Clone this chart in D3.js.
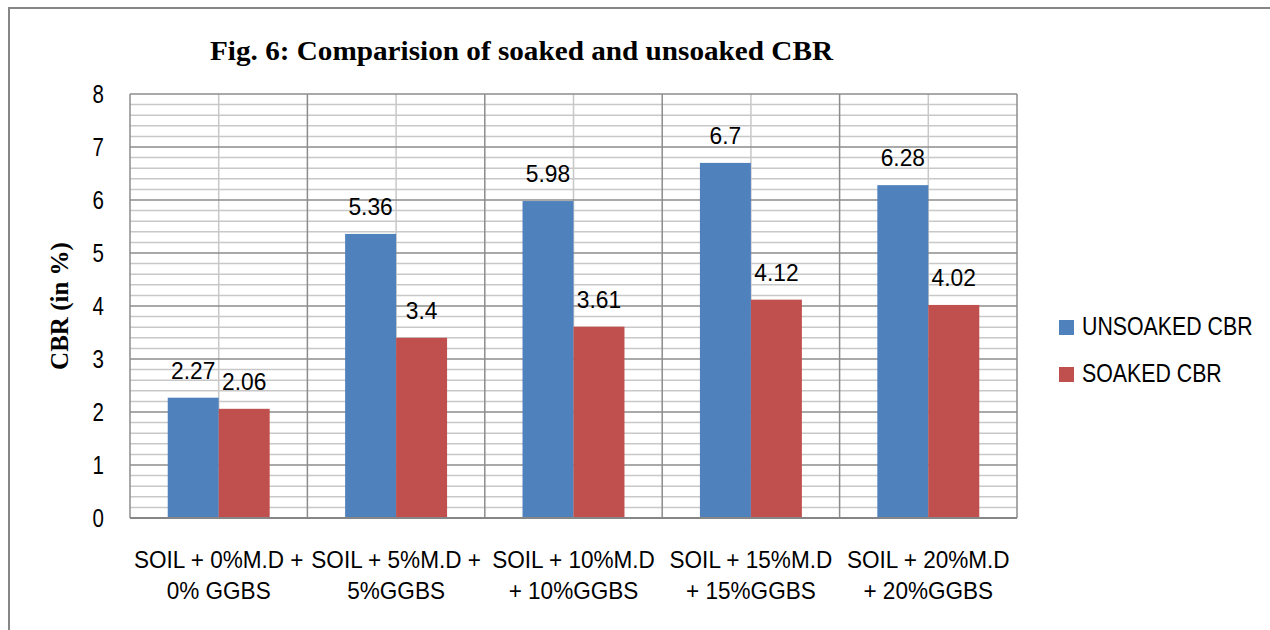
<!DOCTYPE html>
<html>
<head>
<meta charset="utf-8">
<script src="https://cdn.jsdelivr.net/npm/d3@7"></script>
<style>
  body { margin: 0; background: #fff; }
</style>
</head>
<body>
<div id="main"></div>
<script>
var categories = [
  ["SOIL + 0%M.D +", "0% GGBS"],
  ["SOIL + 5%M.D +", "5%GGBS"],
  ["SOIL + 10%M.D", "+ 10%GGBS"],
  ["SOIL + 15%M.D", "+ 15%GGBS"],
  ["SOIL + 20%M.D", "+ 20%GGBS"]
];
var seriesNames = ["UNSOAKED CBR", "SOAKED CBR"];
var unsoaked = [2.27, 5.36, 5.98, 6.7, 6.28];
var soaked = [2.06, 3.4, 3.61, 4.12, 4.02];
var unsoakedLabels = ["2.27", "5.36", "5.98", "6.7", "6.28"];
var soakedLabels = ["2.06", "3.4", "3.61", "4.12", "4.02"];
var yTicks = [0, 1, 2, 3, 4, 5, 6, 7, 8];
var colors = ["#4F81BD", "#C0504D"];

var W = 1270, H = 630;
var plot = { left: 130, top: 94, right: 1017, bottom: 518 };
var sans = "'Liberation Sans', Arial, sans-serif";

var svg = d3.select("#main").append("svg")
  .attr("width", W)
  .attr("height", H);

// outer frame
svg.append("path")
  .attr("d", "M9,630 V8 H1270")
  .attr("fill", "none")
  .attr("stroke", "#868686")
  .attr("stroke-width", 2);

var x = d3.scaleBand()
  .domain(d3.range(categories.length))
  .range([plot.left, plot.right]);

var x1 = d3.scaleBand()
  .domain([0, 1])
  .range([0, x.bandwidth()])
  .paddingOuter(0.74)
  .paddingInner(0);

var y = d3.scaleLinear()
  .domain([0, 8])
  .range([plot.bottom, plot.top]);

// text squeezed horizontally to look like a narrow font
function narrowText(sel, px, py, sx) {
  return sel.attr("transform", function(d, i) {
    return "translate(" + px(d, i) + "," + py(d, i) + ") scale(" + sx + ",1)";
  });
}

var grid = svg.append("g");

// minor horizontal lines every 0.2
var minor = d3.range(0, 8.001, 0.2).filter(function(v) { return Math.abs(v - Math.round(v)) > 0.01; });
grid.selectAll(".minor-h")
  .data(minor)
  .enter().append("line")
  .attr("x1", plot.left).attr("x2", plot.right)
  .attr("y1", function(d) { return y(d); })
  .attr("y2", function(d) { return y(d); })
  .attr("stroke", "#c8c8c8")
  .attr("stroke-width", 1.5);

// minor vertical lines at category centers
grid.selectAll(".minor-v")
  .data(d3.range(categories.length))
  .enter().append("line")
  .attr("x1", function(d) { return x(d) + x.bandwidth() / 2; })
  .attr("x2", function(d) { return x(d) + x.bandwidth() / 2; })
  .attr("y1", plot.top).attr("y2", plot.bottom)
  .attr("stroke", "#c8c8c8")
  .attr("stroke-width", 1.5);

// major horizontal lines
grid.selectAll(".major-h")
  .data(yTicks)
  .enter().append("line")
  .attr("x1", plot.left).attr("x2", plot.right)
  .attr("y1", function(d) { return y(d); })
  .attr("y2", function(d) { return y(d); })
  .attr("stroke", "#8c8c8c")
  .attr("stroke-width", 1.5);

// major vertical lines at category boundaries
grid.selectAll(".major-v")
  .data(d3.range(categories.length + 1))
  .enter().append("line")
  .attr("x1", function(d) { return plot.left + d * x.bandwidth(); })
  .attr("x2", function(d) { return plot.left + d * x.bandwidth(); })
  .attr("y1", plot.top).attr("y2", plot.bottom)
  .attr("stroke", "#8c8c8c")
  .attr("stroke-width", 1.5);

// bars
var series = [unsoaked, soaked];
var labels = [unsoakedLabels, soakedLabels];
series.forEach(function(vals, s) {
  svg.selectAll(".bar" + s)
    .data(vals)
    .enter().append("rect")
    .attr("x", function(d, i) { return x(i) + x1(s); })
    .attr("y", function(d) { return y(d); })
    .attr("width", x1.bandwidth())
    .attr("height", function(d) { return y(0) - y(d); })
    .attr("fill", colors[s]);

  var t = svg.selectAll(".lab" + s)
    .data(vals)
    .enter().append("text")
    .attr("text-anchor", "middle")
    .attr("font-family", sans)
    .attr("font-size", "24px")
    .attr("fill", "#000")
    .text(function(d, i) { return labels[s][i]; });
  narrowText(t,
    function(d, i) { return x(i) + x1(s) + x1.bandwidth() / 2; },
    function(d) { return y(d) - 19; }, 0.95);
});

// axis line at zero
svg.append("line")
  .attr("x1", plot.left).attr("x2", plot.right)
  .attr("y1", y(0)).attr("y2", y(0))
  .attr("stroke", "#868686")
  .attr("stroke-width", 2);

// y tick labels
var yt = svg.selectAll(".ytick")
  .data(yTicks)
  .enter().append("text")
  .attr("dy", "0.36em")
  .attr("text-anchor", "end")
  .attr("font-family", sans)
  .attr("font-size", "25px")
  .text(function(d) { return d; });
narrowText(yt, function() { return 104; }, function(d) { return y(d); }, 0.82);

// x category labels
[0, 1].forEach(function(line) {
  var xl = svg.selectAll(".xlab" + line)
    .data(categories)
    .enter().append("text")
    .attr("text-anchor", "middle")
    .attr("font-family", sans)
    .attr("font-size", "24px")
    .text(function(d) { return d[line]; });
  narrowText(xl,
    function(d, i) { return x(i) + x.bandwidth() / 2; },
    function() { return line ? 599 : 568; }, 0.94);
});

// title
svg.append("text")
  .attr("x", 210)
  .attr("y", 60)
  .attr("font-family", "'Liberation Serif', 'Times New Roman', serif")
  .attr("font-weight", "bold")
  .attr("font-size", "27px")
  .attr("textLength", 623)
  .attr("lengthAdjust", "spacingAndGlyphs")
  .text("Fig. 6: Comparision of soaked and unsoaked CBR");

// y axis title
svg.append("text")
  .attr("transform", "translate(68," + ((plot.top + plot.bottom) / 2) + ") rotate(-90)")
  .attr("text-anchor", "middle")
  .attr("font-family", "'Liberation Serif', 'Times New Roman', serif")
  .attr("font-weight", "bold")
  .attr("font-size", "25px")
  .text("CBR (in %)");

// legend
var legend = svg.selectAll(".legend")
  .data(seriesNames)
  .enter().append("g")
  .attr("transform", function(d, i) { return "translate(1059," + (320 + i * 47) + ")"; });
legend.append("rect")
  .attr("width", 15)
  .attr("height", 15)
  .attr("fill", function(d, i) { return colors[i]; });
legend.append("text")
  .attr("transform", "translate(23,15) scale(0.82,1)")
  .attr("font-family", sans)
  .attr("font-size", "26px")
  .text(function(d) { return d; });
</script>
</body>
</html>
